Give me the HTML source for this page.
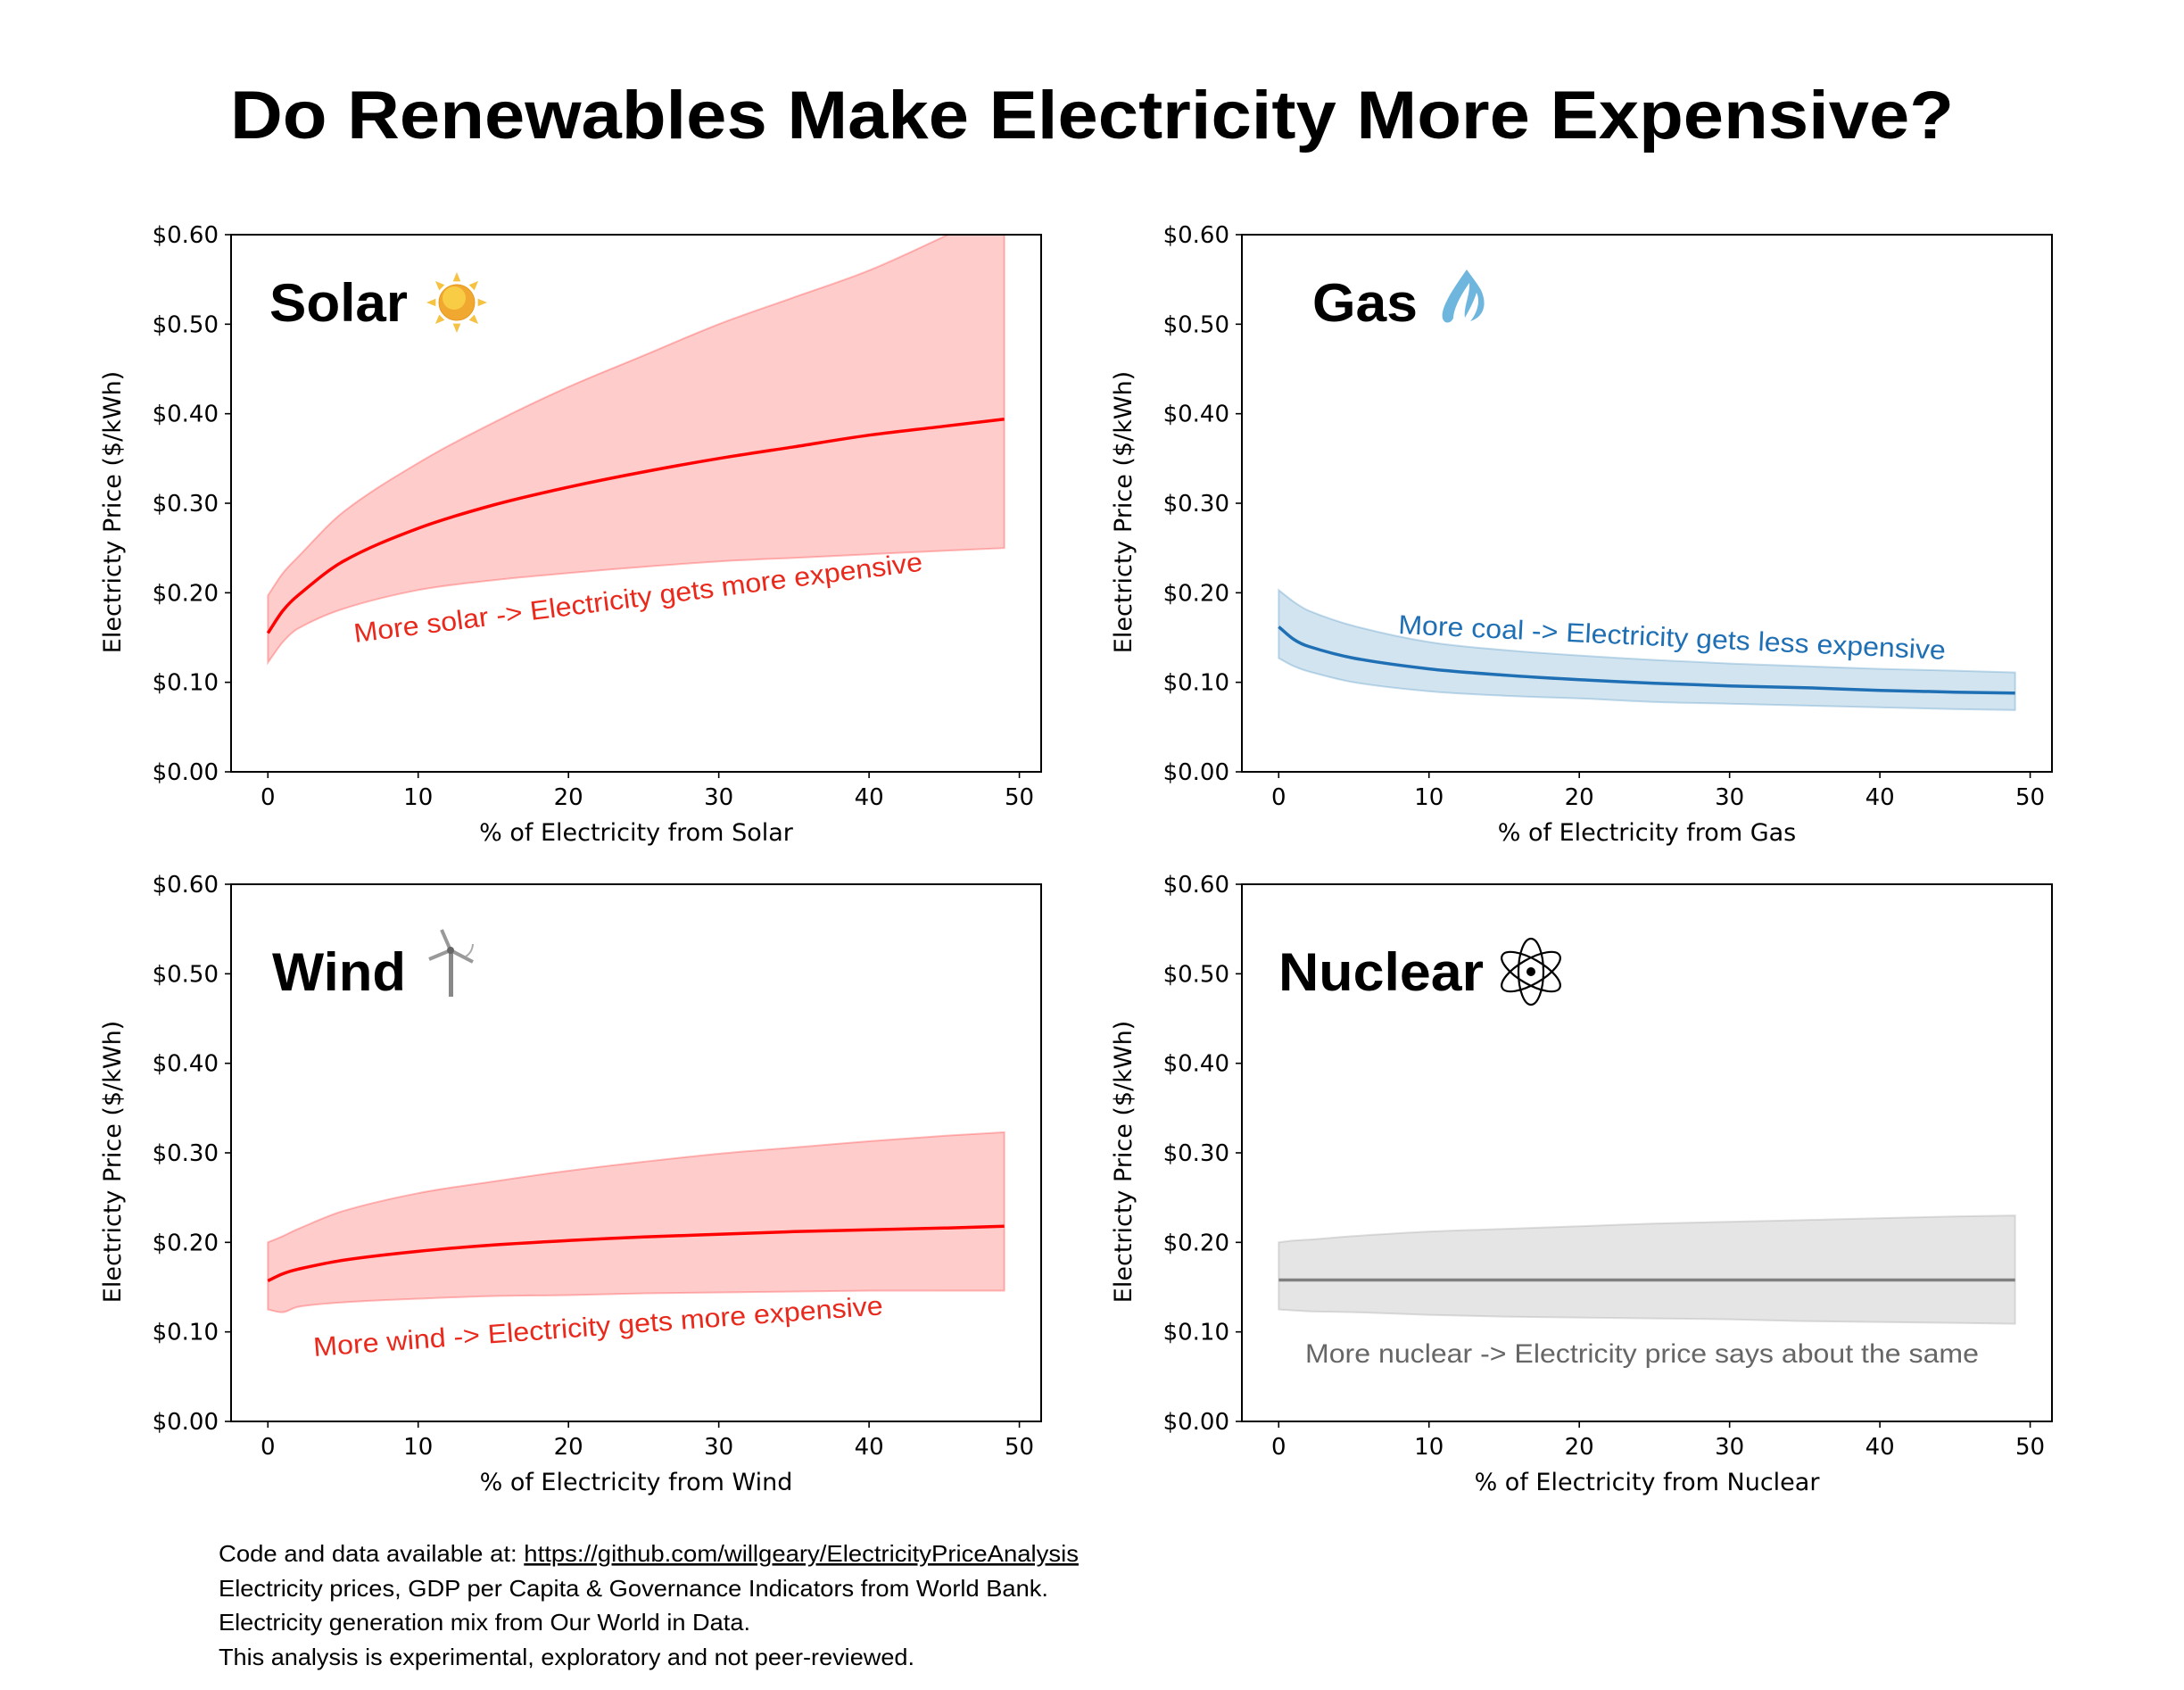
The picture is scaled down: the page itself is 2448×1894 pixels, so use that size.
<!DOCTYPE html>
<html><head><meta charset="utf-8">
<style>
html,body{margin:0;padding:0;background:#fff;}
svg{display:block;}
text{font-family:"Liberation Sans",sans-serif;}
.tick{font-family:"DejaVu Sans",sans-serif;font-size:26px;fill:#000;}
.alab{font-family:"DejaVu Sans",sans-serif;font-size:27px;fill:#000;}
</style></head>
<body>
<svg id="chart" width="2448" height="1894" viewBox="0 0 2448 1894" xmlns="http://www.w3.org/2000/svg">
<text x="1224" y="155" text-anchor="middle" font-weight="bold" font-size="76" textLength="1932" lengthAdjust="spacingAndGlyphs">Do Renewables Make Electricity More Expensive?</text>
<g id="panels"></g>
<g font-size="26">
<text x="245" y="1750" textLength="964" lengthAdjust="spacingAndGlyphs">Code and data available at: <tspan text-decoration="underline">https://github.com/willgeary/ElectricityPriceAnalysis</tspan></text>
<text x="245" y="1789" textLength="930" lengthAdjust="spacingAndGlyphs">Electricity prices, GDP per Capita &amp; Governance Indicators from World Bank.</text>
<text x="245" y="1827" textLength="596" lengthAdjust="spacingAndGlyphs">Electricity generation mix from Our World in Data.</text>
<text x="245" y="1866" textLength="780" lengthAdjust="spacingAndGlyphs">This analysis is experimental, exploratory and not peer-reviewed.</text>
</g>
</svg>
<script>
const xs = [0,1,2,5,10,15,20,25,30,35,40,45,49];
const yTicks = [0,0.1,0.2,0.3,0.4,0.5,0.6];
const yTickLabels = ["$0.00","$0.10","$0.20","$0.30","$0.40","$0.50","$0.60"];
const xTicks = [0,10,20,30,40,50];
const solarMean  = [0.155,0.180,0.197,0.235,0.272,0.298,0.318,0.335,0.350,0.363,0.376,0.386,0.394];
const solarUpper = [0.197,0.222,0.240,0.290,0.345,0.390,0.430,0.465,0.500,0.530,0.560,0.598,0.630];
const solarLower = [0.122,0.145,0.160,0.182,0.203,0.214,0.222,0.229,0.235,0.239,0.243,0.247,0.250];
const gasMean  = [0.162,0.148,0.140,0.127,0.115,0.108,0.103,0.099,0.096,0.094,0.091,0.089,0.088];
const gasUpper = [0.203,0.190,0.180,0.163,0.145,0.136,0.130,0.125,0.121,0.118,0.115,0.113,0.111];
const gasLower = [0.127,0.118,0.112,0.100,0.090,0.085,0.082,0.078,0.076,0.074,0.072,0.070,0.069];
const windMean  = [0.157,0.165,0.170,0.180,0.190,0.197,0.202,0.206,0.209,0.212,0.214,0.216,0.218];
const windUpper = [0.200,0.207,0.215,0.235,0.255,0.268,0.280,0.290,0.299,0.306,0.313,0.319,0.323];
const windLower = [0.125,0.122,0.128,0.133,0.137,0.140,0.141,0.143,0.144,0.145,0.146,0.146,0.146];
const nuclearMean  = [0.158,0.158,0.158,0.158,0.158,0.158,0.158,0.158,0.158,0.158,0.158,0.158,0.158];
const nuclearUpper = [0.200,0.202,0.203,0.207,0.212,0.215,0.218,0.221,0.223,0.225,0.227,0.229,0.230];
const nuclearLower = [0.125,0.124,0.123,0.122,0.119,0.117,0.116,0.115,0.114,0.112,0.111,0.110,0.109];

const NS = "http://www.w3.org/2000/svg";
function mk(tag, attrs, parent){const e=document.createElementNS(NS,tag);for(const k in attrs)e.setAttribute(k,attrs[k]);if(parent)parent.appendChild(e);return e;}
// smooth path through points (Catmull-Rom -> Bezier), non-uniform tension
function smooth(pts, start){
  let d = start ? 'M'+pts[0][0].toFixed(1)+','+pts[0][1].toFixed(1) : 'L'+pts[0][0].toFixed(1)+','+pts[0][1].toFixed(1);
  for(let i=0;i<pts.length-1;i++){
    const p0=pts[Math.max(0,i-1)],p1=pts[i],p2=pts[i+1],p3=pts[Math.min(pts.length-1,i+2)];
    const h=p2[0]-p1[0];
    const s1=(p2[1]-p0[1])/((p2[0]-p0[0])||1), s2=(p3[1]-p1[1])/((p3[0]-p1[0])||1);
    const c1=[p1[0]+h/3,p1[1]+s1*h/3], c2=[p2[0]-h/3,p2[1]-s2*h/3];
    d+='C'+c1[0].toFixed(1)+','+c1[1].toFixed(1)+' '+c2[0].toFixed(1)+','+c2[1].toFixed(1)+' '+p2[0].toFixed(1)+','+p2[1].toFixed(1);
  }
  return d;
}

const panels = [
 {key:"solar",L:259,T:263,name:"Solar",mean:solarMean,up:solarUpper,lo:solarLower,line:"#ff0000",fill:"#ff0000",fillOp:0.2,
  xlabel:"% of Electricity from Solar",ann:"More solar -> Electricity gets more expensive",annColor:"#e8291c",annX:398,annY:720,annRot:-7.2,annLen:642,
  titleX:302,titleY:360,titleLen:155,icon:"sun"},
 {key:"gas",L:1392,T:263,name:"Gas",mean:gasMean,up:gasUpper,lo:gasLower,line:"#1f6fb4",fill:"#1f77b4",fillOp:0.2,
  xlabel:"% of Electricity from Gas",ann:"More coal -> Electricity gets less expensive",annColor:"#1f6fb4",annX:1567,annY:710,annRot:2.7,annLen:614,
  titleX:1471,titleY:360,titleLen:118,icon:"flame"},
 {key:"wind",L:259,T:991,name:"Wind",mean:windMean,up:windUpper,lo:windLower,line:"#ff0000",fill:"#ff0000",fillOp:0.2,
  xlabel:"% of Electricity from Wind",ann:"More wind -> Electricity gets more expensive",annColor:"#e8291c",annX:352,annY:1520,annRot:-4.2,annLen:640,
  titleX:305,titleY:1110,titleLen:150,icon:"turbine"},
 {key:"nuclear",L:1392,T:991,name:"Nuclear",mean:nuclearMean,up:nuclearUpper,lo:nuclearLower,line:"#808080",fill:"#999999",fillOp:0.25,
  xlabel:"% of Electricity from Nuclear",ann:"More nuclear -> Electricity price says about the same",annColor:"#666666",annX:1463,annY:1527,annRot:0,annLen:755,
  titleX:1433,titleY:1110,titleLen:230,icon:"atom"}
];
const W=908,H=602,xmin=-2.45,xmax=51.45,ymin=0,ymax=0.6;
const root=document.getElementById('panels');

panels.forEach(p=>{
  const sx=v=>p.L+(v-xmin)/(xmax-xmin)*W;
  const sy=v=>p.T+H-(v-ymin)/(ymax-ymin)*H;
  const g=mk('g',{},root);
  
  
  const cid='clip-'+p.key;
  const cp=mk('clipPath',{id:cid},g); mk('rect',{x:p.L,y:p.T,width:W,height:H},cp);
  const plot=mk('g',{'clip-path':'url(#'+cid+')'},g);
  const upPts=xs.map((x,i)=>[sx(x),sy(p.up[i])]);
  const loPts=xs.map((x,i)=>[sx(x),sy(p.lo[i])]).reverse();
  const d=smooth(upPts,true)+smooth(loPts,false)+'Z';
  const band=mk('path',{d:d,fill:p.fill,'fill-opacity':p.fillOp,stroke:p.fill,'stroke-opacity':p.fillOp+0.05,'stroke-width':2},plot);
  
  
  const ld=smooth(xs.map((x,i)=>[sx(x),sy(p.mean[i])]),true);
  const line=mk('path',{d:ld,fill:'none',stroke:p.line,'stroke-width':3.5,'stroke-linejoin':'round'},plot);
  
  
  const frame=mk('rect',{x:p.L,y:p.T,width:W,height:H,fill:'none',stroke:'#000','stroke-width':2},g);
  
  
  yTicks.forEach((v,i)=>{
    mk('line',{x1:p.L-7,x2:p.L,y1:sy(v),y2:sy(v),stroke:'#000','stroke-width':1.6},g);
    const t=mk('text',{x:p.L-14,y:sy(v)+9,'text-anchor':'end',class:'tick'},g);
    t.textContent=yTickLabels[i];
    
    
  });
  xTicks.forEach(v=>{
    mk('line',{x1:sx(v),x2:sx(v),y1:p.T+H,y2:p.T+H+7,stroke:'#000','stroke-width':1.6},g);
    const t=mk('text',{x:sx(v),y:p.T+H+37,'text-anchor':'middle',class:'tick'},g);
    t.textContent=String(v);
    
    
  });
  const xl=mk('text',{x:p.L+W/2,y:p.T+H+77,'text-anchor':'middle',class:'alab'},g);
  xl.textContent=p.xlabel;
  
  
  const yl=mk('text',{x:0,y:0,'text-anchor':'middle',class:'alab',transform:`translate(${p.L-124},${p.T+H/2+10}) rotate(-90)`},g);
  yl.textContent='Electricty Price ($/kWh)';
  
  
  const tt=mk('text',{x:p.titleX,y:p.titleY,'font-weight':'bold','font-size':60,textLength:p.titleLen,lengthAdjust:'spacingAndGlyphs'},g);
  tt.textContent=p.name;
  
  
  const an=mk('text',{x:p.annX,y:p.annY,'font-size':30,fill:p.annColor,textLength:p.annLen,lengthAdjust:'spacingAndGlyphs',transform:`rotate(${p.annRot} ${p.annX} ${p.annY})`},g);
  an.textContent=p.ann;
  
  
  const ic=mk('g',{},g);
  
  
  if(p.icon==='sun'){
    const cx=512,cy=339;
    for(let k=0;k<8;k++){const a=k*Math.PI/4;const r1=24,r2=34,w=0.18;
      mk('polygon',{points:`${cx+r1*Math.cos(a-w)},${cy+r1*Math.sin(a-w)} ${cx+r2*Math.cos(a)},${cy+r2*Math.sin(a)} ${cx+r1*Math.cos(a+w)},${cy+r1*Math.sin(a+w)}`,fill:'#f5c242'},ic);}
    mk('circle',{cx:cx,cy:cy,r:20,fill:'#f0a830',stroke:'#e89a20','stroke-width':1},ic);
    mk('circle',{cx:cx-3,cy:cy-5,r:13,fill:'#f8cc45'},ic);
  } else if(p.icon==='flame'){
    mk('path',{d:'M1644,302 C1630,322 1614,345 1617,357 C1620,365 1628,361 1629,356 C1630,344 1638,330 1647,317 C1648,330 1640,345 1642,356 C1647,347 1652,338 1655,328 C1660,338 1655,352 1648,360 C1664,355 1667,340 1660,325 C1654,315 1648,308 1644,302 Z',fill:'#6fb6de'},ic);
  } else if(p.icon==='turbine'){
    mk('rect',{x:503,y:1065,width:5,height:52,fill:'#888'},ic);
    mk('line',{x1:505,y1:1065,x2:495,y2:1042,stroke:'#999','stroke-width':4},ic);
    mk('line',{x1:505,y1:1065,x2:481,y2:1075,stroke:'#999','stroke-width':4},ic);
    mk('line',{x1:505,y1:1065,x2:530,y2:1078,stroke:'#999','stroke-width':4},ic);
    mk('path',{d:'M522,1072 A18,18 0 0 0 530,1058',fill:'none',stroke:'#aaa','stroke-width':2},ic);
    mk('circle',{cx:505,cy:1065,r:4,fill:'#666'},ic);
  } else {
    const cx=1716,cy=1089;
    [0,60,120].forEach(r=>mk('ellipse',{cx:cx,cy:cy,rx:14,ry:37,fill:'none',stroke:'#000','stroke-width':2.2,transform:`rotate(${r} ${cx} ${cy})`},ic));
    mk('circle',{cx:cx,cy:cy,r:5,fill:'#000'},ic);
  }
});
</script>
</body></html>
